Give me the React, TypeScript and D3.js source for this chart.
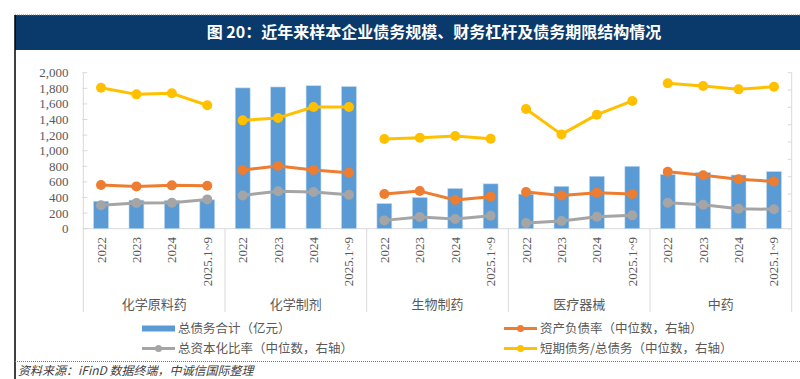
import React from "react";
import * as d3 from "d3";

const groups = ["化学原料药", "化学制剂", "生物制药", "医疗器械", "中药"];
const years = ["2022", "2023", "2024", "2025.1~9"];

// 总债务合计（亿元） left axis
const totalDebt = [
  352, 366, 362, 370,
  1805, 1817, 1833, 1822,
  322, 400, 515, 575,
  443, 543, 672, 800,
  695, 722, 688, 732,
];
// 资产负债率（中位数，右轴）
const debtRatio = [
  25.2, 24.4, 25.0, 24.8,
  33.9, 36.2, 33.9, 32.3,
  20.0, 21.7, 16.6, 18.5,
  21.2, 19.2, 20.8, 20.0,
  32.9, 30.8, 28.5, 27.3,
];
// 总资本化比率（中位数，右轴）
const capRatio = [
  13.5, 14.8, 15.0, 16.9,
  19.2, 21.6, 21.2, 19.6,
  4.8, 6.7, 5.6, 7.5,
  3.3, 4.4, 6.9, 7.7,
  15.0, 13.8, 11.5, 11.2,
];
// 短期债务/总债务（中位数，右轴）
const shortRatio = [
  81.3, 77.5, 78.1, 71.2,
  62.5, 63.9, 70.2, 70.2,
  51.7, 52.5, 53.5, 51.9,
  69.1, 54.4, 65.8, 73.7,
  83.9, 82.3, 80.4, 81.9,
];

const leftTicks = [0, 200, 400, 600, 800, 1000, 1200, 1400, 1600, 1800, 2000];
const rightTicks = [0, 10, 20, 30, 40, 50, 60, 70, 80, 90];

const W = 800;
const H = 379;
const X0 = 83.3;
const X1 = 791.7;
const Y0 = 228.7;
const Y1 = 72.7;

const serif = "'Liberation Serif', 'Times New Roman', serif";
const cjk = "'Noto Sans CJK SC', 'Noto Sans', sans-serif";
const textGrey = "#595959";
const axisGrey = "#D9D9D9";

export default function App() {
  const ids = d3.range(groups.length * years.length).map(String);
  const x = d3
    .scaleBand<string>()
    .domain(ids)
    .range([X0, X1])
    .paddingInner(0.58)
    .paddingOuter(0.29);
  const bw = x.bandwidth();
  const cx = (i: number) => (x(String(i)) as number) + bw / 2;
  const yL = d3.scaleLinear().domain([0, 2000]).range([Y0, Y1]);
  const yR = d3.scaleLinear().domain([0, 90]).range([Y0, Y1]);
  const groupW = (X1 - X0) / groups.length;

  const series = [
    { name: "资产负债率（中位数，右轴）", data: debtRatio, color: "#ED7D31" },
    { name: "总资本化比率（中位数，右轴）", data: capRatio, color: "#A5A5A5" },
    { name: "短期债务/总债务（中位数，右轴）", data: shortRatio, color: "#FFC000" },
  ];

  const lineFor = (data: number[], g: number) => {
    const pts = d3.range(4).map((k) => [cx(g * 4 + k), yR(data[g * 4 + k])] as [number, number]);
    return d3.line()(pts) as string;
  };

  return (
    <svg
      width={W}
      height={H}
      style={{ position: "absolute", left: 0, top: 0, display: "block", background: "#fff" }}
    >
      {/* frame & title */}
      <rect x={15} y={15} width={W - 15} height={35} fill="#0A3A6B" />
      <line x1={15} x2={W} y1={15} y2={15} stroke="#777" strokeDasharray="1,1" />
      <line x1={15} x2={15} y1={15} y2={H} stroke="#000" strokeWidth={1.5} />
      <text
        x={434}
        y={38}
        fill="#fff"
        fontSize={16}
        fontWeight="bold"
        textAnchor="middle"
        fontFamily={cjk}
      >
        图 20：近年来样本企业债务规模、财务杠杆及债务期限结构情况
      </text>

      {/* left axis */}
      <line x1={X0} x2={X0} y1={Y0} y2={Y1} stroke={axisGrey} />
      {leftTicks.map((t) => (
        <g key={t}>
          <line x1={X0 - 1} x2={X0 + 4} y1={yL(t)} y2={yL(t)} stroke={axisGrey} />
          <text
            x={68.5}
            y={yL(t) + 4.5}
            textAnchor="end"
            fontSize={13}
            fontFamily={serif}
            fill={textGrey}
          >
            {d3.format(",")(t)}
          </text>
        </g>
      ))}
      {/* right axis */}
      <line x1={X1} x2={X1} y1={Y0} y2={Y1} stroke={axisGrey} />
      {rightTicks.map((t) => (
        <line key={t} x1={X1 - 4} x2={X1} y1={yR(t)} y2={yR(t)} stroke={axisGrey} />
      ))}

      {/* x axis */}
      <line x1={X0} x2={X1} y1={Y0} y2={Y0} stroke={axisGrey} />
      {d3.range(groups.length + 1).map((g) => (
        <line
          key={g}
          x1={X0 + g * groupW}
          x2={X0 + g * groupW}
          y1={Y0}
          y2={312}
          stroke={axisGrey}
        />
      ))}

      {/* bars */}
      {totalDebt.map((v, i) => (
        <rect
          key={i}
          x={x(String(i))}
          y={yL(v)}
          width={bw}
          height={Y0 - yL(v)}
          fill="#5B9BD5"
          stroke="#BDD7EE"
          strokeWidth={0.6}
        />
      ))}

      {/* lines */}
      {series.map((s) => (
        <g key={s.name}>
          {groups.map((_, g) => (
            <path
              key={g}
              d={lineFor(s.data, g)}
              fill="none"
              stroke={s.color}
              strokeWidth={3}
              strokeLinejoin="round"
            />
          ))}
          {s.data.map((v, i) => (
            <circle key={i} cx={cx(i)} cy={yR(v)} r={5} fill={s.color} />
          ))}
        </g>
      ))}

      {/* category labels */}
      {ids.map((id, i) => (
        <text
          key={id}
          transform={`translate(${cx(i) + 4.5},237) rotate(-90)`}
          textAnchor="end"
          fontSize={13}
          fontFamily={serif}
          fill={textGrey}
        >
          {years[i % 4]}
        </text>
      ))}
      {groups.map((g, gi) => (
        <text
          key={g}
          x={X0 + (gi + 0.5) * groupW}
          y={308.5}
          textAnchor="middle"
          fontSize={13}
          fontFamily={cjk}
          fill={textGrey}
        >
          {g}
        </text>
      ))}

      {/* legend */}
      <rect x={142} y={325.5} width={33} height={6} fill="#5B9BD5" />
      <text x={178} y={333} fontSize={12.5} fontFamily={cjk} fill={textGrey}>
        总债务合计（亿元）
      </text>
      {[
        { s: series[0], lx: 504, ly: 328.5 },
        { s: series[1], lx: 142, ly: 348.5 },
        { s: series[2], lx: 504, ly: 348.5 },
      ].map(({ s, lx, ly }) => (
        <g key={s.name}>
          <line x1={lx} x2={lx + 33} y1={ly} y2={ly} stroke={s.color} strokeWidth={3} />
          <circle cx={lx + 16.5} cy={ly} r={3.5} fill={s.color} />
          <text x={lx + 36} y={ly + 4.5} fontSize={12.5} fontFamily={cjk} fill={textGrey}>
            {s.name}
          </text>
        </g>
      ))}

      {/* source */}
      <line x1={15} x2={W} y1={361.5} y2={361.5} stroke="#777" strokeDasharray="1,1" />
      <text
        x={18}
        y={374.5}
        fontSize={12}
        fontStyle="italic"
        fontFamily={cjk}
        fill="#404040"
      >
        资料来源：iFinD 数据终端，中诚信国际整理
      </text>
    </svg>
  );
}
